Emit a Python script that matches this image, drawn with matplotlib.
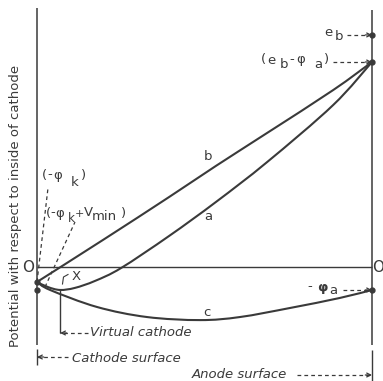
import matplotlib
matplotlib.use('Agg')
import matplotlib.pyplot as plt
from matplotlib.path import Path
from matplotlib.patches import PathPatch

# ---------------- data (x: fraction of cathode-anode distance, V: potential units) ----
b_x = [0.0, 0.197, 0.394, 0.534, 0.687, 0.884, 1.0]
b_V = [-0.73, 1.32, 3.41, 4.93, 6.54, 8.63, 10.0]
a_x = [0.0, 0.033, 0.069, 0.113, 0.173, 0.251, 0.394, 0.534, 0.687, 0.884, 1.0]
a_V = [-0.73, -0.98, -1.12, -1.02, -0.68, -0.05, 1.51, 3.17, 5.12, 7.90, 10.0]
c_x = [0.0, 0.039, 0.179, 0.328, 0.487, 0.606, 0.755, 0.904, 1.0]
c_V = [-0.73, -1.12, -1.95, -2.44, -2.59, -2.44, -2.0, -1.51, -1.12]
cathode_V = [-0.73, -1.12]          # -phi_k, -phi_k + V_min
anode_V = [11.32, 10.0, -1.12]      # e_b, e_b - phi_a, -phi_a
curve_names = ['b', 'a', 'c']

INK = '#3a3a3a'
FS = 9.5

fig = plt.figure(figsize=(3.83, 3.81), dpi=100)
ax = fig.add_axes([0, 0, 1, 1])
ax.set_xlim(-37 / 335, 346 / 335)
ax.set_ylim((267 - 381) / 20.5, 267 / 20.5)
ax.axis('off')


def P(px, py):
    return ((px - 37) / 335, (267 - py) / 20.5)


def T(px, py, s, **kw):
    x, y = P(px, py)
    kw.setdefault('fontsize', FS)
    kw.setdefault('color', INK)
    kw.setdefault('ha', 'center')
    kw.setdefault('va', 'center')
    ax.text(x, y, s, **kw)


DASH = (0, (3, 2.5))


def dashed_arrow(x0, x1, y):
    ax.plot([x0, x1], [y, y], ls=DASH, color=INK, lw=0.9)
    d = 0.02 if x1 > x0 else -0.02
    ax.annotate('', xy=(x1, y), xytext=(x1 - d, y),
                arrowprops=dict(arrowstyle='->', color=INK, lw=0.9,
                                shrinkA=0, shrinkB=0, mutation_scale=7))


def smooth_curve(xs, ys, **kw):
    # Catmull-Rom through the read points, rendered as cubic Bezier segments
    pts = list(zip(xs, ys))
    ext = [pts[0]] + pts + [pts[-1]]
    verts = [pts[0]]
    codes = [Path.MOVETO]
    for i in range(1, len(ext) - 2):
        p0, p1, p2, p3 = ext[i - 1], ext[i], ext[i + 1], ext[i + 2]
        c1 = (p1[0] + (p2[0] - p0[0]) / 6, p1[1] + (p2[1] - p0[1]) / 6)
        c2 = (p2[0] - (p3[0] - p1[0]) / 6, p2[1] - (p3[1] - p1[1]) / 6)
        verts += [c1, c2, p2]
        codes += [Path.CURVE4] * 3
    ax.add_patch(PathPatch(Path(verts, codes), fill=False, **kw))


# electrode lines
ax.vlines(0, P(0, 345)[1], P(0, 8)[1], color=INK, lw=1.1)
ax.vlines(1, P(0, 345)[1], P(0, 10)[1], color=INK, lw=1.1)
ax.hlines(0, 0, 1, color=INK, lw=1.0)

# potential curves
for xs, vs in [(b_x, b_V), (a_x, a_V), (c_x, c_V)]:
    smooth_curve(xs, vs, edgecolor=INK, lw=1.5, capstyle='round', joinstyle='round')

# points
ax.plot([0] * len(cathode_V), cathode_V, 'o', color=INK, ms=3.5)
ax.plot([1] * len(anode_V), anode_V, 'o', color=INK, ms=3.5)

# curve labels
for name, (px, py) in zip(curve_names, [(208, 157), (208, 217), (207, 313)]):
    T(px, py, name)

# O labels
T(28, 267, 'O', fontsize=11)
T(378, 268, 'O', fontsize=11)

# y label
T(15, 206, 'Potential with respect to inside of cathode', rotation=90)

# e_b
T(328, 33, 'e')
T(339, 37, 'b')
dashed_arrow((347 - 37) / 335, 1.0, anode_V[0])

# (e_b - phi_a)
T(263, 60, '(')
T(271, 60, 'e')
T(284, 64, 'b')
T(292, 60, '-')
T(301, 60, 'φ')
T(318, 64, 'a')
T(327, 60, ')')
dashed_arrow((333 - 37) / 335, 1.0, anode_V[1])

# -phi_a
T(310, 287, '-')
T(322, 287, 'φ', fontweight='bold')
T(333, 291, 'a')
dashed_arrow((343 - 37) / 335, 1.0, anode_V[2])

# (-phi_k)
T(44, 175, '(')
T(50, 175, '-')
T(58, 175, 'φ')
T(75, 183, 'k')
T(84, 175, ')')
ax.plot([0, P(48, 188)[0]], [cathode_V[0], P(48, 188)[1]], ls=DASH, color=INK, lw=0.9)

# (-phi_k + V_min)
T(48, 213, '(')
T(53, 213, '-')
T(60, 213, 'φ')
T(71, 218, 'k', fontsize=8.5)
T(79, 214, '+', fontsize=8)
T(88, 213, 'V')
T(104, 217, 'min')
T(124, 213, ')')
ax.plot([P(45, 287)[0], P(75, 222)[0]], [P(45, 287)[1], P(75, 222)[1]],
        ls=DASH, color=INK, lw=0.9)

# x marker
ax.plot([P(62.5, 284)[0], P(63.5, 277)[0], P(68, 274.5)[0]],
        [P(62.5, 284)[1], P(63.5, 277)[1], P(68, 274.5)[1]], color=INK, lw=0.8)
T(76, 277, 'X', fontsize=9.5)

# virtual cathode
i_min = a_V.index(min(a_V))
vc_x = a_x[i_min]
ax.vlines(vc_x, P(0, 333)[1], a_V[i_min], color=INK, lw=1.0)
dashed_arrow((88 - 37) / 335, vc_x, P(0, 333)[1])
T(90, 333, 'Virtual cathode', ha='left', style='italic')

# cathode surface
ax.vlines(0, P(0, 365)[1], P(0, 349)[1], color=INK, lw=1.0)
dashed_arrow((68 - 37) / 335, 0.0, P(0, 357)[1])
T(72, 358, 'Cathode surface', ha='left', style='italic')

# anode surface
ax.vlines(1, P(0, 381)[1], P(0, 350)[1], color=INK, lw=1.0)
dashed_arrow((297 - 37) / 335, 1.0, P(0, 375)[1])
T(192, 375, 'Anode surface', ha='left', style='italic')

fig.savefig('out.png', dpi=100, facecolor='white')
